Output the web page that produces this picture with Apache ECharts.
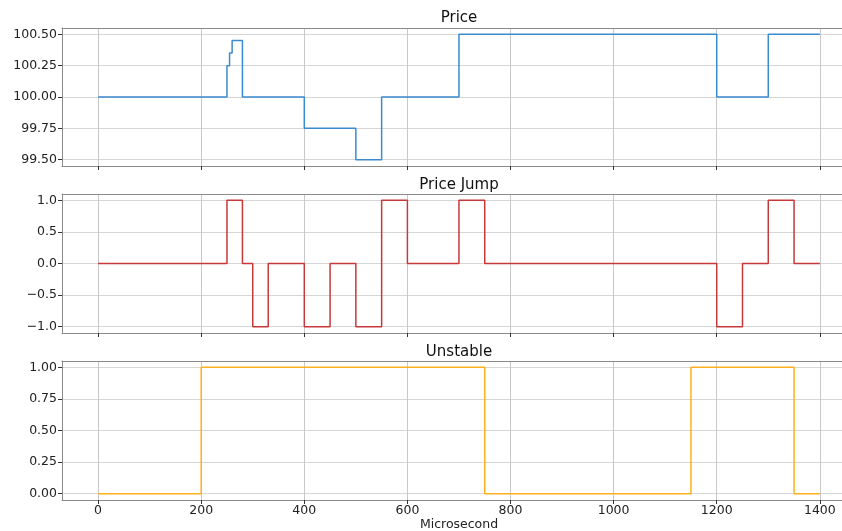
<!DOCTYPE html>
<html>
<head>
<meta charset="utf-8">
<script src="https://cdn.jsdelivr.net/npm/echarts@6/dist/echarts.min.js"></script>
<style>
html,body{margin:0;padding:0;background:#fff;}
#c{width:842px;height:531px;}
</style>
</head>
<body>
<div id="c"></div>
<script>
// ---- data ----
const priceTimes = [0, 250, 255, 260, 280, 400, 500, 550, 700, 1200, 1300, 1400];
const priceValues = [100, 100.25, 100.35, 100.45, 100, 99.75, 99.5, 100, 100.5, 100, 100.5, 100.5];

const jumpTimes = [0, 250, 280, 300, 330, 400, 450, 500, 550, 600, 700, 750, 1200, 1250, 1300, 1350, 1400];
const jumpValues = [0, 1, 0, -1, 0, -1, 0, -1, 1, 0, 1, 0, -1, 0, 1, 0, 0];

const unstableTimes = [0, 200, 750, 1150, 1350, 1400];
const unstableValues = [0, 1, 0, 1, 0, 0];

const xTicks = [0, 200, 400, 600, 800, 1000, 1200, 1400];
const priceTicks = [99.5, 99.75, 100, 100.25, 100.5];
const jumpTicks = [-1, -0.5, 0, 0.5, 1];
const unstableTicks = [0, 0.25, 0.5, 0.75, 1];

const titles = ['Price', 'Price Jump', 'Unstable'];
const xLabel = 'Microsecond';

// ---- layout ----
const FONT = 'DejaVu Sans';
const X_MIN = -70, X_MAX = 1443; // visible part of the (cropped) axes
const gridTops = [28, 194, 361];
const gridHeights = [138, 139, 139];
const gridLeft = 62;
const axisCenterX = 459;
const SPINE = '#8a8a8a';

const zip = (a, b) => a.map((t, i) => [t, b[i]]);

function fmtY(dec) {
  return v => {
    const s = Math.abs(v).toFixed(dec);
    return v < 0 ? '\u2212' + s : s;
  };
}

const grids = gridTops.map((t, i) => ({
  left: gridLeft, right: 0, top: t, height: gridHeights[i], show: false
}));

const xAxes = gridTops.map((t, i) => ({
  type: 'value', gridIndex: i, min: X_MIN, max: X_MAX, position: 'bottom',
  axisLine: { show: true, onZero: false, lineStyle: { color: SPINE, width: 1 } },
  axisTick: { show: true, inside: false, length: 4, customValues: xTicks, lineStyle: { color: '#333', width: 1 } },
  axisLabel: { show: i === 2, customValues: xTicks, formatter: v => String(v), margin: 4, fontFamily: FONT, fontSize: 12.5, color: '#222' },
  splitLine: { show: true, lineStyle: { color: '#c8c8c8', width: 1 } }
})).concat(gridTops.map((t, i) => ({
  type: 'value', gridIndex: i, min: X_MIN, max: X_MAX, position: 'top',
  axisLine: { show: true, onZero: false, lineStyle: { color: SPINE, width: 1 } },
  axisTick: { show: false }, axisLabel: { show: false }, splitLine: { show: false }
})));

const yConf = [
  { min: 99.45, max: 100.55, ticks: priceTicks, dec: 2 },
  { min: -1.1, max: 1.1, ticks: jumpTicks, dec: 1 },
  { min: -0.05, max: 1.05, ticks: unstableTicks, dec: 2 }
];
const yAxes = yConf.map((c, i) => ({
  type: 'value', gridIndex: i, min: c.min, max: c.max, position: 'left',
  axisLine: { show: true, onZero: false, lineStyle: { color: SPINE, width: 1 } },
  axisTick: { show: true, inside: false, length: 4, customValues: c.ticks, lineStyle: { color: '#333', width: 1 } },
  axisLabel: { customValues: c.ticks, formatter: fmtY(c.dec), margin: 5, fontFamily: FONT, fontSize: 12.5, color: '#222' },
  splitLine: { show: true, lineStyle: { color: '#d6d6d6', width: 1 } }
}));

const colors = ['#3b8bd0', '#c8383a', '#ffb020'];
const seriesData = [zip(priceTimes, priceValues), zip(jumpTimes, jumpValues), zip(unstableTimes, unstableValues)];
const series = seriesData.map((d, i) => ({
  type: 'line', xAxisIndex: i, yAxisIndex: i, data: d, step: 'end',
  symbol: 'none', animation: false, silent: true,
  lineStyle: { color: colors[i], width: 1.5 }
}));

const titleYs = [18, 185, 352];
const graphic = titles.map((t, i) => ({
  type: 'text', x: axisCenterX, y: titleYs[i],
  style: { text: t, fontFamily: FONT, fontSize: 15, fill: '#111', align: 'center', verticalAlign: 'middle' }
})).concat([{
  type: 'text', x: axisCenterX, y: 525,
  style: { text: xLabel, fontFamily: FONT, fontSize: 12.5, fill: '#222', align: 'center', verticalAlign: 'middle' }
}]);

const chart = echarts.init(document.getElementById('c'), null, { renderer: 'canvas' });
chart.setOption({
  backgroundColor: '#fff',
  animation: false,
  grid: grids,
  xAxis: xAxes,
  yAxis: yAxes,
  series: series,
  graphic: graphic
});
</script>
</body>
</html>
